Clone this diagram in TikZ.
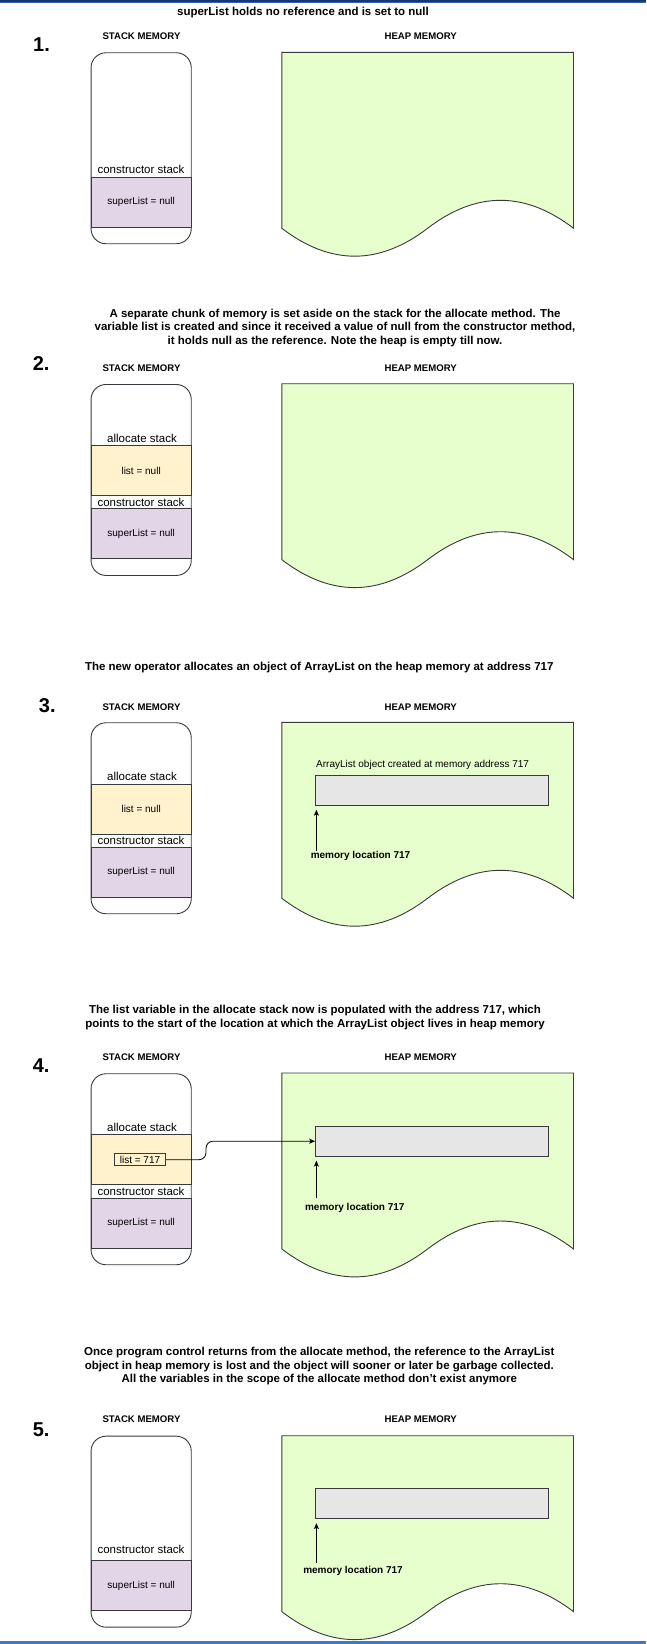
\documentclass[tikz,border=0pt]{standalone}
\usepackage{fontspec}
\setmainfont{Liberation Sans}
\usetikzlibrary{arrows.meta,calc}
\definecolor{heapg}{HTML}{E6FFCC}
\definecolor{purp}{HTML}{E1D5E7}
\definecolor{yel}{HTML}{FFF2CC}
\definecolor{objg}{HTML}{E6E6E6}
\definecolor{strk}{HTML}{36393D}
\definecolor{bartopa}{HTML}{1A3570}
\definecolor{bartopb}{HTML}{2F63B8}
\definecolor{barbot}{HTML}{3A78C9}
\tikzset{
 ttl/.style={font=\fontsize{11.5}{13.5}\selectfont\bfseries, align=center, inner sep=0},
 num/.style={font=\fontsize{20}{24}\selectfont\bfseries, inner sep=0},
 hdr/.style={font=\fontsize{9.6}{11}\selectfont\bfseries, inner sep=0},
 lbl/.style={font=\fontsize{11.5}{13}\selectfont, inner sep=0},
 var/.style={font=\fontsize{10}{12}\selectfont, inner sep=0},
 mem/.style={font=\fontsize{10}{12}\selectfont\bfseries, inner sep=0},
 stackbox/.style={draw=strk, fill=white, rounded corners=15, line width=0.9, minimum width=100.2, minimum height=191, anchor=north west, inner sep=0},
 region/.style={draw=strk, line width=0.9, minimum width=100.2, anchor=north west, inner sep=0, font=\fontsize{10}{12}\selectfont},
 heapshape/.style={draw=strk, fill=heapg, line width=0.9},
 objbox/.style={draw=strk, fill=objg, minimum width=233.2, minimum height=30, inner sep=0, line width=0.9},
 arr/.style={-{Stealth[length=6,width=5,inset=1.5]}, draw=black, line width=0.8},
}
\newcommand\drawheap[1]{\begin{scope}[shift={(281.8,#1)}]
\draw[heapshape] (0,0) -- (291.7,0) -- (291.7,175.95) .. controls (243.1,138.7) and (194.5,138.7) .. (145.85,175.95) .. controls (97.2,213.2) and (48.6,213.2) .. (0,175.95) -- cycle;
\end{scope}}
\begin{document}
\begin{tikzpicture}[x=1pt,y=-1pt]
\useasboundingbox (0,0) rectangle (646,1644);
\fill[white] (0,0) rectangle (646,1644);
\fill[bartopa] (0,0) rectangle (646,1.5);
\fill[bartopb] (0,1.5) rectangle (646,3);
\fill[barbot] (0,1641) rectangle (646,1644);

% ---------- Panel 1 ----------
\node[ttl] (t1) at (303,12.7) {superList holds no reference and is set to null};
\node[num] (n1) at (41.5,45) {1.};
\node[hdr] (sh1) at (141.5,36) {STACK MEMORY};
\node[hdr] (hh1) at (420.7,36) {HEAP MEMORY};
\drawheap{52.3}
\node[stackbox] (s1) at (90.6,52.3) {};
\node[lbl] (c1) at (141,169) {constructor stack};
\node[region, fill=purp, minimum height=49.7] (p1) at (90.6,177) {superList = null};

% ---------- Panel 2 ----------
\node[ttl] (t2) at (335,327.8) {A separate chunk of memory is set aside on the stack for the allocate method. The\\variable list is created and since it received a value of null from the constructor method,\\it holds null as the reference. Note the heap is empty till now.};
\node[num] (n2) at (41.2,363.3) {2.};
\node[hdr] (sh2) at (141.5,367.7) {STACK MEMORY};
\node[hdr] (hh2) at (420.7,367.7) {HEAP MEMORY};
\drawheap{383.7}
\node[stackbox] (s2) at (90.6,384) {};
\node[lbl] (a2) at (142,438) {allocate stack};
\node[region, fill=yel, minimum height=49.7] (y2) at (90.6,445.3) {list = null};
\node[lbl] (c2) at (141,502) {constructor stack};
\node[region, fill=purp, minimum height=50] (p2) at (90.6,508.3) {superList = null};

% ---------- Panel 3 ----------
\node[ttl] (t3) at (319.3,667.7) {The new operator allocates an object of ArrayList on the heap memory at address 717};
\node[num] (n3) at (47.3,706) {3.};
\node[hdr] (sh3) at (141.5,706.7) {STACK MEMORY};
\node[hdr] (hh3) at (420.7,706.7) {HEAP MEMORY};
\drawheap{722.3}
\node[stackbox] (s3) at (90.6,722.3) {};
\node[lbl] (a3) at (142,776) {allocate stack};
\node[region, fill=yel, minimum height=50] (y3) at (90.6,783.7) {list = null};
\node[lbl] (c3) at (141,840) {constructor stack};
\node[region, fill=purp, minimum height=49.7] (p3) at (90.6,847) {superList = null};
\node[var, anchor=west] (d3) at (316,764.7) {ArrayList object created at memory address 717};
\node[objbox] (o3) at (432.2,790.3) {};
\node[mem] (m3) at (360.5,855.7) {memory location 717};
\coordinate (q3) at (316.4,850.7);
\draw[arr, shorten >=4] (q3) -- (q3 |- o3.south);

% ---------- Panel 4 ----------
\node[ttl] (t4) at (315,1017.5) {The list variable in the allocate stack now is populated with the address 717, which\\points to the start of the location at which the ArrayList object lives in heap memory};
\node[num] (n4) at (41.2,1066) {4.};
\node[hdr] (sh4) at (141.5,1056.7) {STACK MEMORY};
\node[hdr] (hh4) at (420.7,1056.7) {HEAP MEMORY};
\drawheap{1073}
\node[stackbox] (s4) at (90.6,1073.3) {};
\node[lbl] (a4) at (142,1127) {allocate stack};
\node[region, fill=yel, minimum height=50] (y4) at (90.6,1134.3) {};
\node[var, draw=strk, fill=yel, line width=0.9, minimum width=51.4, minimum height=12] (l4) at (140,1159.7) {list = 717};
\node[lbl] (c4) at (141,1191) {constructor stack};
\node[region, fill=purp, minimum height=50] (p4) at (90.6,1197.7) {superList = null};
\node[objbox] (o4) at (432.2,1141.2) {};
\node[mem] (m4) at (354.8,1207.7) {memory location 717};
\coordinate (q4) at (316.4,1198.3);
\draw[arr, shorten >=4] (q4) -- (q4 |- o4.south);
\coordinate (v4) at (206,0);
\draw[arr, rounded corners=7] (l4.east) -- (l4.east -| v4) -- (v4 |- o4.west) -- (o4.west);

% ---------- Panel 5 ----------
\node[ttl] (t5) at (319.3,1366.5) {Once program control returns from the allocate method, the reference to the ArrayList\\object in heap memory is lost and the object will sooner or later be garbage collected.\\All the variables in the scope of the allocate method don't exist anymore};
\node[num] (n5) at (41.2,1429.3) {5.};
\node[hdr] (sh5) at (141.5,1419.3) {STACK MEMORY};
\node[hdr] (hh5) at (420.7,1419.3) {HEAP MEMORY};
\drawheap{1435.7}
\node[stackbox] (s5) at (90.6,1435.7) {};
\node[lbl] (c5) at (141,1549) {constructor stack};
\node[region, fill=purp, minimum height=50] (p5) at (90.6,1560) {superList = null};
\node[objbox] (o5) at (432.2,1503.7) {};
\node[mem] (m5) at (353,1571) {memory location 717};
\coordinate (q5) at (316.4,1563);
\draw[arr, shorten >=4] (q5) -- (q5 |- o5.south);
\end{tikzpicture}
\end{document}
